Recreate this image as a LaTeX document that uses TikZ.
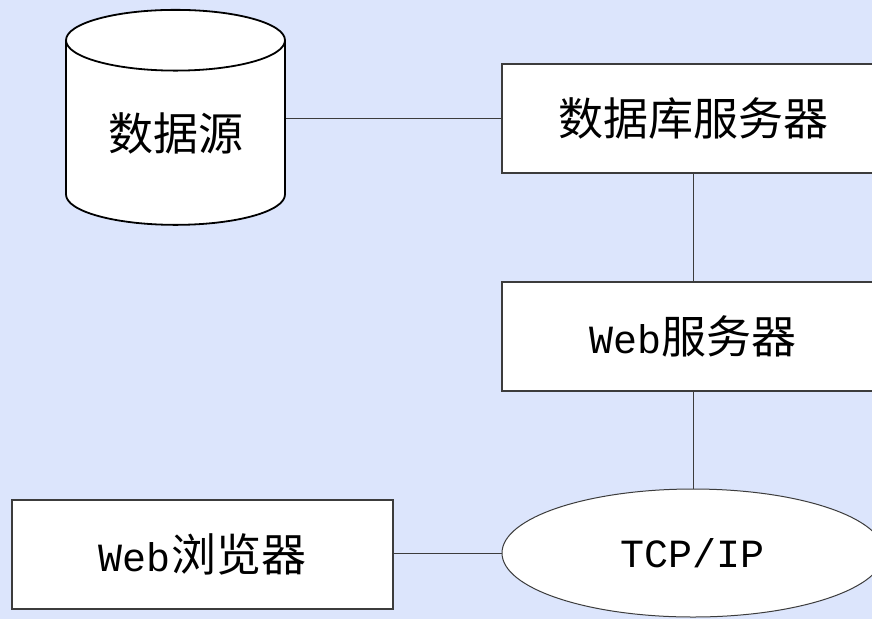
\documentclass[tikz,border=0pt]{standalone}
\usepackage{fontspec}
\setmainfont{Noto Sans CJK SC}
\newfontfamily\latinmono{Liberation Mono}
\usetikzlibrary{shapes.geometric, positioning}

\definecolor{slidebg}{RGB}{220,229,252}
\definecolor{edgegray}{RGB}{60,60,60}

\tikzset{
	boxtext/.style={font=\fontsize{45}{50}\selectfont, text=black}
}
\tikzset{
	srvbox/.style={boxtext, draw=edgegray, line width=1.1pt, fill=white,
			rectangle, inner sep=0pt, minimum width=382pt, minimum height=109pt}
}
\tikzset{
	wire/.style={draw=edgegray, line width=1pt}
}
\newcommand{\webtxt}[1]{{\latinmono\fontsize{40}{48}\selectfont #1}}

\begin{document}
\begin{tikzpicture}[x=1pt, y=-1pt]

			\fill[slidebg] (0,0) rectangle (872,619);
			\useasboundingbox (0,0) rectangle (872,619);

			\begin{scope}
				\node[boxtext, cylinder, shape border rotate=90, draw=black,
					line width=1.8pt, fill=white, aspect=0.45, inner sep=0pt,
					minimum width=219pt, minimum height=215pt] (src) at (175.5,133) {数据源};

				\node[srvbox] (dbs) at (693,118.5) {数据库服务器};
				\node[srvbox] (web) at (693,336.5) {\webtxt{Web}服务器};
				\node[srvbox, minimum width=381pt] (brw) at (202.5,554.5) {\webtxt{Web}浏览器};

				\node[boxtext, ellipse, draw=edgegray, line width=1pt, fill=white,
					inner sep=0pt, minimum width=382pt, minimum height=128pt] (tcp) at (693,553) {\webtxt{TCP/IP}};
			\end{scope}

			\begin{scope}
				\draw[wire] (src.east |- dbs.west) -- (dbs.west);
				\draw[wire] (dbs) -- (web);
				\draw[wire] (web) -- (tcp);
				\draw[wire] (brw.east |- tcp.west) -- (tcp.west);
			\end{scope}

		\end{tikzpicture}
\end{document}
